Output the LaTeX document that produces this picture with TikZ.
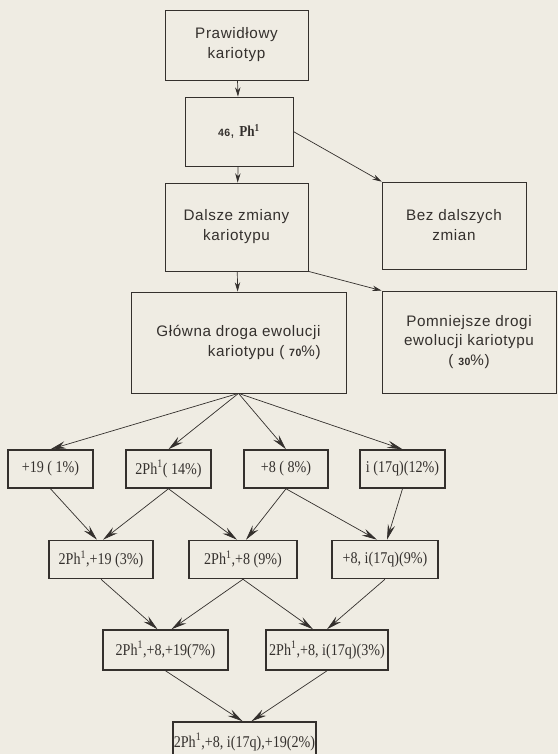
\documentclass[tikz,border=0pt]{standalone}
\usepackage{fontspec}
\usepackage{tikz}
\usetikzlibrary{arrows.meta,calc}
\newfontfamily\upfont[LetterSpace=4]{Liberation Sans}
\newfontfamily\rowfont[FakeStretch=0.86]{Liberation Serif}
\definecolor{paper}{RGB}{239,236,227}
\definecolor{ink}{RGB}{52,48,45}
\begin{document}
\begin{tikzpicture}[x=0.03cm,y=-0.03cm,
  upbox/.style={draw=ink,line width=0.6pt,inner sep=0pt,text=ink,
    font=\upfont\fontsize{13}{17}\selectfont,align=center},
  rowbox/.style={draw=ink,line width=1.3pt,inner sep=0pt,text=ink,
    font=\rowfont\fontsize{14}{16}\selectfont,minimum height=38*0.03cm},
  uparr/.style={draw=ink,line width=0.6pt,-{Stealth[length=2.8mm,width=1.6mm]}},
  rowarr/.style={draw=ink,line width=0.6pt,-{Stealth[length=4.6mm,width=2.2mm,inset=1.6mm]}}]
\clip (0,0) rectangle (558,754);
\fill[paper] (0,0) rectangle (558,754);

% upper part
\node[upbox,minimum width=143*0.03cm,minimum height=70*0.03cm] (prav) at (236.5,45) {Prawidłowy\\kariotyp};
\node[upbox,minimum width=108*0.03cm,minimum height=69*0.03cm] (ph) at (239,131.5) {{\bfseries\small 46}, {\rowfont\bfseries Ph\textsuperscript{1}}};
\node[upbox,minimum width=143*0.03cm,minimum height=88*0.03cm] (dalsze) at (236.5,227) {Dalsze zmiany\\kariotypu};
\node[upbox,minimum width=144*0.03cm,minimum height=87*0.03cm] (bez) at (454,225.5) {Bez dalszych\\zmian};
\node[upbox,minimum width=215*0.03cm,minimum height=101*0.03cm,align=right] (glowna) at (238.5,342.5) {Główna droga ewolucji\\kariotypu ( {\bfseries\small 70}\%)};
\node[upbox,minimum width=174*0.03cm,minimum height=102*0.03cm] (pomn) at (469,342) {Pomniejsze drogi\\ewolucji kariotypu\\( {\bfseries\small 30}\%)};

\draw[uparr] (prav) -- (ph);
\draw[uparr] (ph) -- (dalsze);
\draw[uparr] (ph.east) -- (bez.north west);
\draw[uparr] (dalsze) -- (glowna);
\draw[uparr] (dalsze.south east) -- (pomn.north west);

% rows
\node[rowbox,minimum width=85*0.03cm] (r1) at (50.5,469) {+19 ( 1\%)};
\node[rowbox,minimum width=85*0.03cm] (r2) at (168.5,469) {2Ph\textsuperscript{1}( 14\%)};
\node[rowbox,minimum width=84*0.03cm] (r3) at (286,469) {+8 ( 8\%)};
\node[rowbox,minimum width=85*0.03cm] (r4) at (402.5,469) {i (17q)(12\%)};

\node[rowbox,minimum width=104*0.03cm] (s1) at (101,559.5) {2Ph\textsuperscript{1},+19 (3\%)};
\node[rowbox,minimum width=108*0.03cm] (s2) at (243,559.5) {2Ph\textsuperscript{1},+8 (9\%)};
\node[rowbox,minimum width=106*0.03cm] (s3) at (385,559.5) {+8, i(17q)(9\%)};

\node[rowbox,minimum width=125*0.03cm,minimum height=40*0.03cm] (t1) at (165.5,650) {2Ph\textsuperscript{1},+8,+19(7\%)};
\node[rowbox,minimum width=122*0.03cm,minimum height=40*0.03cm] (t2) at (327,650) {2Ph\textsuperscript{1},+8, i(17q)(3\%)};

\node[rowbox,minimum width=143*0.03cm,minimum height=40*0.03cm] (u) at (244.5,742) {2Ph\textsuperscript{1},+8, i(17q),+19(2\%)};

\draw[rowarr] (glowna.south) -- (r1.north);
\draw[rowarr] (glowna.south) -- (r2.north);
\draw[rowarr] (glowna.south) -- (r3.north);
\draw[rowarr] (glowna.south) -- (r4.north);

\draw[rowarr] (r1.south) -- ($(s1.north)+(-4,0)$);
\draw[rowarr] (r2.south) -- ($(s1.north)+(2,0)$);
\draw[rowarr] (r2.south) -- ($(s2.north)+(-6,0)$);
\draw[rowarr] (r3.south) -- ($(s2.north)+(3,0)$);
\draw[rowarr] (r3.south) -- ($(s3.north)+(-8,0)$);
\draw[rowarr] (r4.south) -- ($(s3.north)+(2,0)$);

\draw[rowarr] (s1.south) -- ($(t1.north)+(-8,0)$);
\draw[rowarr] (s2.south) -- ($(t1.north)+(6,0)$);
\draw[rowarr] (s2.south) -- ($(t2.north)+(-14,0)$);
\draw[rowarr] (s3.south) -- ($(t2.north)+(0,0)$);

\draw[rowarr] (t1.south) -- ($(u.north)+(-2,0)$);
\draw[rowarr] (t2.south) -- ($(u.north)+(7,0)$);
\end{tikzpicture}
\end{document}
